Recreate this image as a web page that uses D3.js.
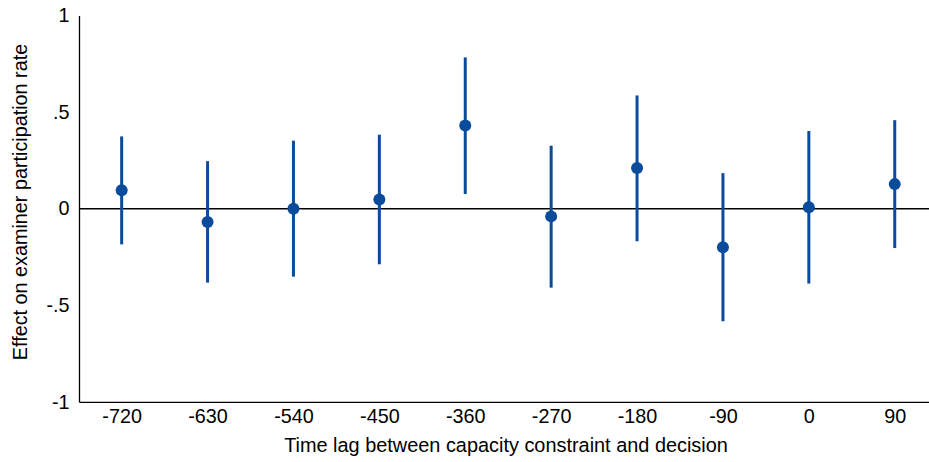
<!DOCTYPE html>
<html><head><meta charset="utf-8">
<script src="https://cdn.jsdelivr.net/npm/d3@7"></script>
<style>body{margin:0;background:#fff}svg{display:block}text{font-family:"Liberation Sans",Arial,sans-serif;fill:#000}</style>
</head><body><svg id="c" width="929" height="462"></svg>
<script>
const lags = [-720,-630,-540,-450,-360,-270,-180,-90,0,90];
const estimates = [0.095,-0.069,0.0,0.047,0.43,-0.04,0.21,-0.2,0.007,0.127];
const ciLow = [-0.185,-0.383,-0.352,-0.288,0.076,-0.409,-0.169,-0.583,-0.388,-0.204];
const ciHigh = [0.374,0.246,0.352,0.383,0.783,0.326,0.586,0.184,0.402,0.458];
const yTicks = [1,0.5,0,-0.5,-1];
const yTickLabels = ["1",".5","0","-.5","-1"];
const xTickLabels = ["-720","-630","-540","-450","-360","-270","-180","-90","0","90"];
const xLabel = "Time lag between capacity constraint and decision";
const yLabel = "Effect on examiner participation rate";

(function(){
const svg = d3.select("#c");
const mL = 79, mR = 929, mT = 15.5, mB = 401.8;
const x = d3.scaleLinear().domain([-764.7, 125.9]).range([mL, mR]);
const y = d3.scaleLinear().domain([-1, 1]).range([mB, mT]);
const color = "#0a4b9b";
const ff = "Liberation Sans, Arial, sans-serif";

const ya = svg.append("g").attr("transform", `translate(${mL},0)`)
  .call(d3.axisLeft(y).tickValues(yTicks).tickSize(0).tickPadding(9.5)
    .tickFormat((d,i)=>yTickLabels[i]));
ya.select(".domain").attr("stroke","#000").attr("stroke-width",1.3);
ya.selectAll("text").attr("font-size",19.8).attr("font-family",ff);

const xa = svg.append("g").attr("transform", `translate(0,${mB})`)
  .call(d3.axisBottom(x).tickValues(lags).tickSize(0).tickPadding(7.5)
    .tickFormat((d,i)=>xTickLabels[i]));
xa.select(".domain").attr("stroke","#000").attr("stroke-width",1.3);
xa.selectAll("text").attr("font-size",19.8).attr("font-family",ff);

svg.append("line").attr("x1",mL).attr("x2",mR).attr("y1",y(0)).attr("y2",y(0))
  .attr("stroke","#000").attr("stroke-width",1.5);

svg.append("g").selectAll("line").data(lags).join("line")
  .attr("x1",d=>x(d)).attr("x2",d=>x(d))
  .attr("y1",(d,i)=>y(ciLow[i])).attr("y2",(d,i)=>y(ciHigh[i]))
  .attr("stroke",color).attr("stroke-width",3);

svg.append("g").selectAll("circle").data(lags).join("circle")
  .attr("cx",d=>x(d)).attr("cy",(d,i)=>y(estimates[i])).attr("r",6)
  .attr("fill",color);

svg.append("text").attr("x",506).attr("y",452).attr("text-anchor","middle")
  .attr("font-size",19.9).text(xLabel);
svg.append("text").attr("transform",`translate(26.5,202) rotate(-90)`)
  .attr("text-anchor","middle").attr("font-size",19.8).text(yLabel);
})();
</script></body></html>
